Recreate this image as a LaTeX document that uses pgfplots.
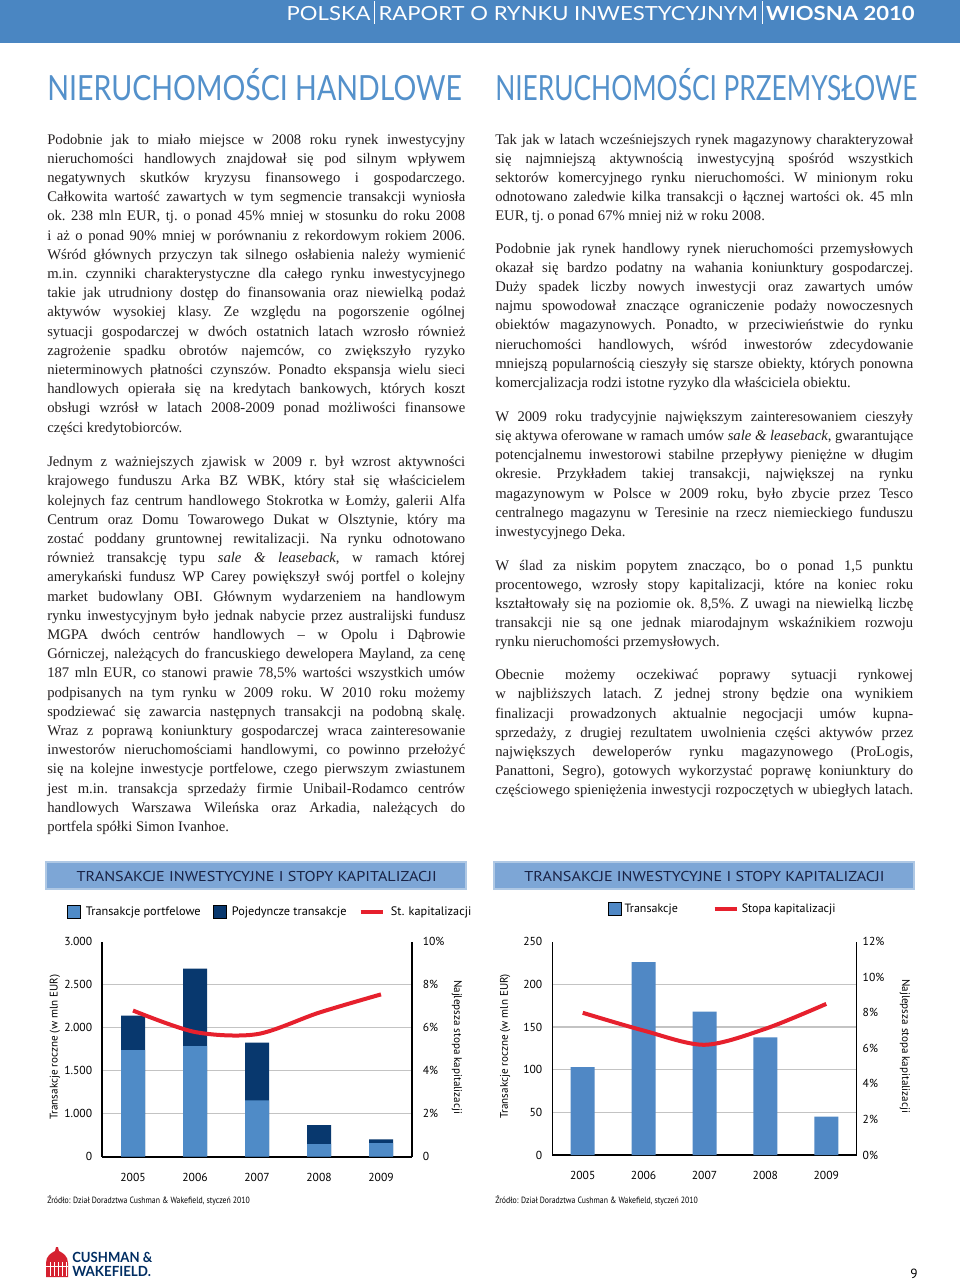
\documentclass[border=0pt]{standalone}
\usepackage{fontspec}
\setmainfont{Liberation Serif}
\newfontfamily\ptsans{PT Sans}
\newfontfamily\lato{Lato}
\usepackage{graphicx}
\usepackage{pgfplots}
\pgfplotsset{compat=1.18}

\definecolor{hdrblue}{RGB}{74,134,194}
\definecolor{ttlblue}{RGB}{84,145,203}
\definecolor{barttl}{RGB}{125,166,214}
\definecolor{barttlb}{RGB}{175,200,228}
\definecolor{lightbar}{RGB}{79,139,199}
\definecolor{darkbar}{RGB}{8,56,110}
\definecolor{barblue}{RGB}{80,136,197}
\definecolor{capred}{RGB}{230,32,45}
\definecolor{navy}{RGB}{25,35,70}
\definecolor{gridgray}{RGB}{195,195,195}
\definecolor{bodytext}{RGB}{35,31,32}
\definecolor{logored}{RGB}{213,33,48}
\definecolor{logonavy}{RGB}{0,45,98}

\newlength\colw \setlength\colw{313.5pt}
\newcommand\JL[1]{\hbox to\colw{#1}}
\newcommand\LL[1]{\hbox to\colw{#1\hfil}}
\newcommand\para[1]{\vtop{\baselineskip=14.4pt\lineskiplimit=-100pt\lineskip=0pt #1}}
\newcommand\bodyfont{\frenchspacing\fontsize{11pt}{14.4pt}\selectfont\color{bodytext}}

\pgfplotsset{
  sqlegend/.style={legend image code/.code={\fill[##1] (0pt,-4.9pt) rectangle (9.8pt,4.9pt);}},
  lnlegend/.style={legend image code/.code={\draw[##1] (0pt,0pt) -- (17pt,0pt);}},
  chartbase/.style={
    scale only axis,
    xmin=-0.5, xmax=4.5,
    major tick length=0pt,
    tick label style={font=\ptsans\fontsize{8.7}{10}\selectfont, text=black},
    axis line style={line width=1.2pt, black},
    /pgf/number format/assume math mode=true,
    every axis y label/.style={font=\ptsans\fontsize{8.3}{10}\selectfont},
  },
}

\begin{document}
\begin{tikzpicture}
\begin{scope}[x=0.75pt,y=-0.75pt]
\useasboundingbox (0,0) rectangle (960,1283);
\fill[white] (0,0) rectangle (960,1283);
% header
\fill[hdrblue] (0,0) rectangle (960,43);
\node[anchor=base east, inner sep=0pt, text=white] at (915,20.7)
  {\resizebox{471pt}{\height}{\lato\fontsize{14.6pt}{16pt}\selectfont POLSKA\,\rule[-0.18em]{0.5pt}{1.2em}\,RAPORT O RYNKU INWESTYCYJNYM\,\rule[-0.18em]{0.5pt}{1.2em}\,{\bfseries WIOSNA 2010}}};
% section titles
\node[anchor=base west, inner sep=0pt, text=ttlblue] at (47,100)
  {\resizebox{311pt}{\height}{\lato\fontsize{26pt}{30pt}\selectfont NIERUCHOMOŚCI HANDLOWE}};
\node[anchor=base west, inner sep=0pt, text=ttlblue] at (495,100)
  {\resizebox{316.5pt}{\height}{\lato\fontsize{26pt}{30pt}\selectfont NIERUCHOMOŚCI PRZEMYSŁOWE}};

% left column
\node[anchor=base west, inner sep=0pt] at (47,144) {\bodyfont\para{%
\JL{Podobnie jak to miało miejsce w 2008 roku rynek inwestycyjny}
\JL{nieruchomości handlowych znajdował się pod silnym wpływem}
\JL{negatywnych skutków kryzysu finansowego i gospodarczego.}
\JL{Całkowita wartość zawartych w tym segmencie transakcji wyniosła}
\JL{ok. 238 mln EUR, tj. o ponad 45\% mniej w stosunku do roku 2008}
\JL{i aż o ponad 90\% mniej w porównaniu z rekordowym rokiem 2006.}
\JL{Wśród głównych przyczyn tak silnego osłabienia należy wymienić}
\JL{m.in. czynniki charakterystyczne dla całego rynku inwestycyjnego}
\JL{takie jak utrudniony dostęp do finansowania oraz niewielką podaż}
\JL{aktywów wysokiej klasy. Ze względu na pogorszenie ogólnej}
\JL{sytuacji gospodarczej w dwóch ostatnich latach wzrosło również}
\JL{zagrożenie spadku obrotów najemców, co zwiększyło ryzyko}
\JL{nieterminowych płatności czynszów. Ponadto ekspansja wielu sieci}
\JL{handlowych opierała się na kredytach bankowych, których koszt}
\JL{obsługi wzrósł w latach 2008-2009 ponad możliwości finansowe}
\LL{części kredytobiorców.}}};

\node[anchor=base west, inner sep=0pt] at (47,466.7) {\bodyfont\para{%
\JL{Jednym z ważniejszych zjawisk w 2009 r. był wzrost aktywności}
\JL{krajowego funduszu Arka BZ WBK, który stał się właścicielem}
\JL{kolejnych faz centrum handlowego Stokrotka w Łomży, galerii Alfa}
\JL{Centrum oraz Domu Towarowego Dukat w Olsztynie, który ma}
\JL{zostać poddany gruntownej rewitalizacji. Na rynku odnotowano}
\JL{również transakcję typu \textit{sale \& leaseback}, w ramach której}
\JL{amerykański fundusz WP Carey powiększył swój portfel o kolejny}
\JL{market budowlany OBI. Głównym wydarzeniem na handlowym}
\JL{rynku inwestycyjnym było jednak nabycie przez australijski fundusz}
\JL{MGPA dwóch centrów handlowych – w Opolu i Dąbrowie}
\JL{Górniczej, należących do francuskiego dewelopera Mayland, za cenę}
\JL{187 mln EUR, co stanowi prawie 78,5\% wartości wszystkich umów}
\JL{podpisanych na tym rynku w 2009 roku. W 2010 roku możemy}
\JL{spodziewać się zawarcia następnych transakcji na podobną skalę.}
\JL{Wraz z poprawą koniunktury gospodarczej wraca zainteresowanie}
\JL{inwestorów nieruchomościami handlowymi, co powinno przełożyć}
\JL{się na kolejne inwestycje portfelowe, czego pierwszym zwiastunem}
\JL{jest m.in. transakcja sprzedaży firmie Unibail-Rodamco centrów}
\JL{handlowych Warszawa Wileńska oraz Arkadia, należących do}
\LL{portfela spółki Simon Ivanhoe.}}};

% right column
\node[anchor=base west, inner sep=0pt] at (495,144) {\bodyfont\para{%
\JL{Tak jak w latach wcześniejszych rynek magazynowy charakteryzował}
\JL{się najmniejszą aktywnością inwestycyjną spośród wszystkich}
\JL{sektorów komercyjnego rynku nieruchomości. W minionym roku}
\JL{odnotowano zaledwie kilka transakcji o łącznej wartości ok. 45 mln}
\LL{EUR, tj. o ponad 67\% mniej niż w roku 2008.}}};

\node[anchor=base west, inner sep=0pt] at (495,253) {\bodyfont\para{%
\JL{Podobnie jak rynek handlowy rynek nieruchomości przemysłowych}
\JL{okazał się bardzo podatny na wahania koniunktury gospodarczej.}
\JL{Duży spadek liczby nowych inwestycji oraz zawartych umów}
\JL{najmu spowodował znaczące ograniczenie podaży nowoczesnych}
\JL{obiektów magazynowych. Ponadto, w przeciwieństwie do rynku}
\JL{nieruchomości handlowych, wśród inwestorów zdecydowanie}
\JL{mniejszą popularnością cieszyły się starsze obiekty, których ponowna}
\LL{komercjalizacja rodzi istotne ryzyko dla właściciela obiektu.}}};

\node[anchor=base west, inner sep=0pt] at (495,421.3) {\bodyfont\para{%
\JL{W 2009 roku tradycyjnie największym zainteresowaniem cieszyły}
\JL{się aktywa oferowane w ramach umów \textit{sale \& leaseback}, gwarantujące}
\JL{potencjalnemu inwestorowi stabilne przepływy pieniężne w długim}
\JL{okresie. Przykładem takiej transakcji, największej na rynku}
\JL{magazynowym w Polsce w 2009 roku, było zbycie przez Tesco}
\JL{centralnego magazynu w Teresinie na rzecz niemieckiego funduszu}
\LL{inwestycyjnego Deka.}}};

\node[anchor=base west, inner sep=0pt] at (495,570) {\bodyfont\para{%
\JL{W ślad za niskim popytem znacząco, bo o ponad 1,5 punktu}
\JL{procentowego, wzrosły stopy kapitalizacji, które na koniec roku}
\JL{kształtowały się na poziomie ok. 8,5\%. Z uwagi na niewielką liczbę}
\JL{transakcji nie są one jednak miarodajnym wskaźnikiem rozwoju}
\LL{rynku nieruchomości przemysłowych.}}};

\node[anchor=base west, inner sep=0pt] at (495,679.7) {\bodyfont\para{%
\JL{Obecnie możemy oczekiwać poprawy sytuacji rynkowej}
\JL{w najbliższych latach. Z jednej strony będzie ona wynikiem}
\JL{finalizacji prowadzonych aktualnie negocjacji umów kupna-}
\JL{sprzedaży, z drugiej rezultatem uwolnienia części aktywów przez}
\JL{największych deweloperów rynku magazynowego (ProLogis,}
\JL{Panattoni, Segro), gotowych wykorzystać poprawę koniunktury do}
\JL{częściowego spieniężenia inwestycji rozpoczętych w ubiegłych latach.}}};

% chart title bars
\filldraw[fill=barttl, draw=barttlb, line width=0.8pt] (46,862) rectangle (466,889);
\filldraw[fill=barttl, draw=barttlb, line width=0.8pt] (494,862) rectangle (914,889);
\node[inner sep=0pt, text=navy] at (256.7,876)
  {\resizebox{270pt}{\height}{\ptsans\fontsize{10.7pt}{12pt}\selectfont TRANSAKCJE INWESTYCYJNE I STOPY KAPITALIZACJI}};
\node[inner sep=0pt, text=navy] at (704.5,876)
  {\resizebox{270pt}{\height}{\ptsans\fontsize{10.7pt}{12pt}\selectfont TRANSAKCJE INWESTYCYJNE I STOPY KAPITALIZACJI}};

% sources
\node[anchor=base west, inner sep=0pt] at (47,1203)
  {\resizebox{152pt}{\height}{\ptsans\fontsize{6.8pt}{8pt}\selectfont Źródło: Dział Doradztwa Cushman \& Wakefield, styczeń 2010}};
\node[anchor=base west, inner sep=0pt] at (495,1203)
  {\resizebox{152pt}{\height}{\ptsans\fontsize{6.8pt}{8pt}\selectfont Źródło: Dział Doradztwa Cushman \& Wakefield, styczeń 2010}};

% footer logo
\fill[logored] (46,1277) -- (46,1263) .. controls (46,1256) and (51,1253) .. (55,1251) -- (56,1247) -- (58,1247) -- (59,1251) .. controls (63,1253) and (68,1256) .. (68,1263) -- (68,1277) -- cycle;
\foreach \xx in {50,54,58,62,66} {\draw[white, line width=0.6pt] (\xx,1262) -- (\xx,1276);}
\draw[white, line width=0.6pt] (46,1266) -- (68,1266);
\node[anchor=base west, inner sep=0pt, text=logonavy] at (72,1262.5)
  {\resizebox{60pt}{\height}{\lato\bfseries\fontsize{10.5pt}{12pt}\selectfont CUSHMAN \&}};
\node[anchor=base west, inner sep=0pt, text=logonavy] at (72,1276)
  {\resizebox{59pt}{\height}{\lato\bfseries\fontsize{10.5pt}{12pt}\selectfont WAKEFIELD.}};
\node[anchor=base east, inner sep=0pt] at (918,1278)
  {\ptsans\fontsize{10pt}{12pt}\selectfont 9};

\coordinate (c1) at (102,1156.7);
\coordinate (c2) at (552.3,1155);
\end{scope}

% ================= Chart 1 =================
\begin{axis}[chartbase, at={(c1)}, anchor=south west,
  width=232.5pt, height=161.25pt,
  axis x line*=bottom, axis y line*=left,
  ymin=0, ymax=3000,
  y coord trafo/.code={\pgfmathparse{ifthenelse(#1<=1000,#1/2,#1-500)}},
  y coord inv trafo/.code={\pgfmathparse{ifthenelse(#1<=500,#1*2,#1+500)}},
  ytick={0,1000,1500,2000,2500}, yticklabels={0,1.000,1.500,2.000,2.500},
  extra y ticks={3000}, extra y tick labels={3.000},
  extra y tick style={grid=none},
  ymajorgrids, grid style={gridgray, line width=0.8pt},
  xtick={0,1,2,3,4}, xticklabels={2005,2006,2007,2008,2009},
  xticklabel style={yshift=-9pt},
  yticklabel style={xshift=-3.9pt},
  ylabel={Transakcje roczne (w mln EUR)},
  every axis y label/.append style={at={(axis description cs:-0.152,0.51)}, rotate=90, anchor=center},
  legend style={at={(axis description cs:-0.115,1.138)}, anchor=west, draw=none, fill=none,
    legend columns=-1, font=\ptsans\fontsize{9.2}{10}\selectfont, inner sep=0pt,
    /tikz/every odd column/.append style={column sep=2.2pt},
    /tikz/every even column/.append style={column sep=7pt}},
]
\addlegendimage{sqlegend, fill=lightbar}
\addlegendentry{Transakcje portfelowe}
\addlegendimage{sqlegend, fill=darkbar}
\addlegendentry{Pojedyncze transakcje}
\addlegendimage{lnlegend, capred, line width=3pt}
\addlegendentry{St. kapitalizacji}
% totals (dark = single transactions stacked on portfolio)
\addplot[ybar, bar width=18pt, bar shift=0pt, fill=darkbar, draw=none, forget plot]
  coordinates {(0,2140) (1,2686) (2,1826) (3,737) (4,405)};
% portfolio transactions
\addplot[ybar, bar width=18pt, bar shift=0pt, fill=lightbar, draw=none, forget plot]
  coordinates {(0,1740) (1,1787) (2,1156) (3,295) (4,318)};
\end{axis}

\begin{axis}[chartbase, at={(c1)}, anchor=south west,
  width=232.5pt, height=161.25pt,
  axis y line*=right, axis x line=none,
  ymin=0, ymax=10,
  ytick={0,2,4,6,8,10}, yticklabels={0,2\%,4\%,6\%,8\%,10\%},
  yticklabel style={xshift=4.6pt},
  ylabel={Najlepsza stopa kapitalizacji},
  every axis y label/.append style={at={(axis description cs:1.145,0.51)}, rotate=-90, anchor=center},
]
\addplot[capred, line width=3pt, smooth] coordinates {(0,6.8) (1,5.8) (2,5.7) (3,6.7) (4,7.55)};
\end{axis}

% ================= Chart 2 =================
\begin{axis}[chartbase, at={(c2)}, anchor=south west,
  width=228.3pt, height=160pt,
  axis x line*=bottom, axis y line*=left,
  ymin=0, ymax=250,
  ytick={0,50,100,150,200}, yticklabels={0,50,100,150,200},
  extra y ticks={250}, extra y tick labels={250},
  extra y tick style={grid=none},
  ymajorgrids, grid style={gridgray, line width=0.8pt},
  xtick={0,1,2,3,4}, xticklabels={2005,2006,2007,2008,2009},
  xticklabel style={yshift=-9pt},
  yticklabel style={xshift=-4pt},
  ylabel={Transakcje roczne (w mln EUR)},
  every axis y label/.append style={at={(axis description cs:-0.155,0.51)}, rotate=90, anchor=center},
  legend style={at={(axis description cs:0.183,1.153)}, anchor=west, draw=none, fill=none,
    legend columns=-1, font=\ptsans\fontsize{9}{10}\selectfont, inner sep=0pt,
    /tikz/every even column/.append style={column sep=24pt}},
]
\addlegendimage{sqlegend, fill=barblue}
\addlegendentry{Transakcje}
\addlegendimage{lnlegend, capred, line width=3pt}
\addlegendentry{Stopa kapitalizacji}
\addplot[ybar, bar width=18pt, bar shift=0pt, fill=barblue, draw=none, forget plot]
  coordinates {(0,103) (1,226) (2,168) (3,138) (4,45)};
\end{axis}

\begin{axis}[chartbase, at={(c2)}, anchor=south west,
  width=228.3pt, height=160pt,
  axis y line*=right, axis x line=none,
  ymin=0, ymax=12,
  ytick={0,2,4,6,8,10,12}, yticklabels={0\%,2\%,4\%,6\%,8\%,10\%,12\%},
  yticklabel style={xshift=1pt},
  ylabel={Najlepsza stopa kapitalizacji},
  every axis y label/.append style={at={(axis description cs:1.158,0.51)}, rotate=-90, anchor=center},
]
\addplot[capred, line width=3pt, smooth] coordinates {(0,8.0) (1,7.0) (2,6.2) (3,7.1) (4,8.5)};
\end{axis}
\end{tikzpicture}
\end{document}
